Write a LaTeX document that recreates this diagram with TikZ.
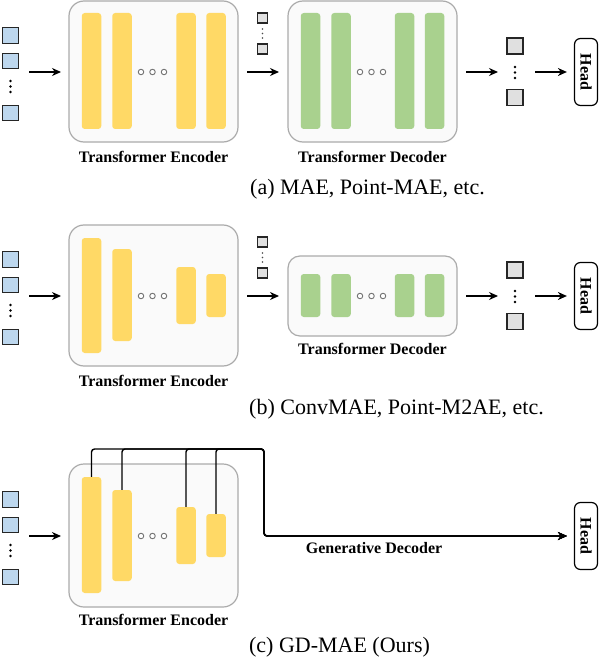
\documentclass[tikz,border=0pt]{standalone}
\usepackage{fontspec}
\setmainfont{Liberation Serif}
\usetikzlibrary{arrows.meta}
\definecolor{encY}{HTML}{FFD966}
\definecolor{decG}{HTML}{A9D18E}
\definecolor{tokB}{HTML}{BDD7EE}
\definecolor{tokG}{HTML}{E0E0E0}
\definecolor{boxF}{HTML}{FAFAFA}
\definecolor{boxD}{HTML}{ABABAB}
\tikzset{
  frame/.style={draw=boxD, fill=boxF, line width=1.2pt, rounded corners=15pt, inner sep=0pt},
  ybar/.style={fill=encY, rounded corners=3pt, minimum width=19.5pt, inner sep=0pt},
  gbar/.style={fill=decG, rounded corners=3pt, minimum width=19.5pt, inner sep=0pt},
  intok/.style={draw=black!85, fill=tokB, line width=1.2pt, minimum size=15.5pt, inner sep=0pt},
  masktok/.style={draw=black!85, fill=tokG, line width=1.2pt, minimum size=10pt, inner sep=0pt},
  outtok/.style={draw=black!85, fill=tokG, line width=1.2pt, minimum size=16pt, inner sep=0pt},
  headbox/.style={draw=black, fill=white, line width=1.2pt, rounded corners=6pt, minimum width=23pt, minimum height=67pt, inner sep=0pt},
  lab/.style={font=\fontsize{16}{18}\selectfont\bfseries, anchor=base, inner sep=0pt},
  captxt/.style={font=\fontsize{22}{24}\selectfont, anchor=base, inner sep=0pt},
  flow/.style={-{Stealth[length=9pt,width=8pt]}, line width=1.4pt},
  conn/.style={line width=1.4pt, rounded corners=3pt},
  ring/.style={circle, draw=black!55, fill=white, line width=0.9pt, minimum size=5.5pt, inner sep=0pt},
  dotc/.style={circle, fill=black, minimum size=2.6pt, inner sep=0pt},
  sdot/.style={circle, fill=black!70, minimum size=1.8pt, inner sep=0pt},
}
\begin{document}
\begin{tikzpicture}[x=1pt, y=-1pt]
\useasboundingbox (0,0) rectangle (599,658);

% ================= (a) =================
\node[intok] (a1) at (10.5,35.5) {};
\node[intok] (a2) at (10.5,61) {};
\node[intok] (a3) at (10.5,113) {};
\foreach \yy [count=\i] in {81,86.5,92} \node[dotc] (ad\i) at (10.5,\yy) {};
\coordinate (aInA) at (29,72);
\coordinate (aInB) at (61,72);
\draw[flow] (aInA) -- (aInB);
\node[frame, minimum width=169pt, minimum height=141pt] (aEnc) at (153.5,71.5) {};
\node[ybar, minimum height=116pt] (ae1) at (91.5,71) {};
\node[ybar, minimum height=116pt] (ae2) at (122,71) {};
\node[ybar, minimum height=116pt] (ae3) at (186,71) {};
\node[ybar, minimum height=116pt] (ae4) at (216,71) {};
\node[ring] (aer1) at (141,72) {};
\node[ring] (aer2) at (152.5,72) {};
\node[ring] (aer3) at (164,72) {};
\node[lab] (aEncL) at (153.5,162) {Transformer Encoder};
\node[masktok] (am1) at (262.5,18) {};
\node[masktok] (am2) at (262.5,49) {};
\foreach \yy [count=\i] in {29,33.5,38} \node[sdot] (amd\i) at (262.5,\yy) {};
\coordinate (aMidA) at (247,72);
\coordinate (aMidB) at (279,72);
\draw[flow] (aMidA) -- (aMidB);
\node[frame, minimum width=169pt, minimum height=141pt] (aDec) at (372.5,71.5) {};
\node[gbar, minimum height=116pt] (ad1) at (310.5,71) {};
\node[gbar, minimum height=116pt] (ad2) at (341,71) {};
\node[gbar, minimum height=116pt] (ad3) at (404.5,71) {};
\node[gbar, minimum height=116pt] (ad4) at (434.5,71) {};
\node[ring] (adr1) at (360,72) {};
\node[ring] (adr2) at (371.5,72) {};
\node[ring] (adr3) at (383,72) {};
\node[lab] (aDecL) at (372.5,162) {Transformer Decoder};
\coordinate (aOutA) at (466,72);
\coordinate (aOutB) at (498,72);
\draw[flow] (aOutA) -- (aOutB);
\node[outtok] (ao1) at (515,46) {};
\node[outtok] (ao2) at (515,97.5) {};
\foreach \yy [count=\i] in {67,72.5,78} \node[dotc] (aod\i) at (515,\yy) {};
\node[headbox] (aHead) at (586,72) {};
\node[lab, anchor=center, rotate=-90] (aHeadL) at (aHead.center) {Head};
\coordinate (aHA) at (535,72);
\draw[flow, shorten >=7pt] (aHA) -- (aHA -| aHead.west);
\node[captxt] (aCap) at (367.5,194) {(a) MAE, Point-MAE, etc.};

% ================= (b) =================
\node[intok] (b1) at (10.5,259.5) {};
\node[intok] (b2) at (10.5,285) {};
\node[intok] (b3) at (10.5,337) {};
\foreach \yy [count=\i] in {305,310.5,316} \node[dotc] (bd\i) at (10.5,\yy) {};
\coordinate (bInA) at (29,296);
\coordinate (bInB) at (61,296);
\draw[flow] (bInA) -- (bInB);
\node[frame, minimum width=169pt, minimum height=141pt] (bEnc) at (153.5,295.5) {};
\node[ybar, minimum height=115pt] (be1) at (91.5,295.5) {};
\node[ybar, minimum height=92pt] (be2) at (122,295) {};
\node[ybar, minimum height=57pt] (be3) at (186,295.5) {};
\node[ybar, minimum height=43pt] (be4) at (216,295.5) {};
\node[ring] (ber1) at (141,296) {};
\node[ring] (ber2) at (152.5,296) {};
\node[ring] (ber3) at (164,296) {};
\node[lab] (bEncL) at (153.5,386) {Transformer Encoder};
\node[masktok] (bm1) at (262.5,242) {};
\node[masktok] (bm2) at (262.5,273) {};
\foreach \yy [count=\i] in {253,257.5,262} \node[sdot] (bmd\i) at (262.5,\yy) {};
\coordinate (bMidA) at (247,296);
\coordinate (bMidB) at (279,296);
\draw[flow] (bMidA) -- (bMidB);
\node[frame, rounded corners=12pt, minimum width=169pt, minimum height=80pt] (bDec) at (372.5,296) {};
\node[gbar, minimum height=43pt] (bd1) at (310.5,295.5) {};
\node[gbar, minimum height=43pt] (bd2) at (341,295.5) {};
\node[gbar, minimum height=43pt] (bd3) at (404.5,295.5) {};
\node[gbar, minimum height=43pt] (bd4) at (434.5,295.5) {};
\node[ring] (bdr1) at (360,296) {};
\node[ring] (bdr2) at (371.5,296) {};
\node[ring] (bdr3) at (383,296) {};
\node[lab] (bDecL) at (372.5,354) {Transformer Decoder};
\coordinate (bOutA) at (466,296);
\coordinate (bOutB) at (498,296);
\draw[flow] (bOutA) -- (bOutB);
\node[outtok] (bo1) at (515,270) {};
\node[outtok] (bo2) at (515,321.5) {};
\foreach \yy [count=\i] in {291,296.5,302} \node[dotc] (bod\i) at (515,\yy) {};
\node[headbox] (bHead) at (586,296) {};
\node[lab, anchor=center, rotate=-90] (bHeadL) at (bHead.center) {Head};
\coordinate (bHA) at (535,296);
\draw[flow, shorten >=7pt] (bHA) -- (bHA -| bHead.west);
\node[captxt] (bCap) at (396.5,414) {(b) ConvMAE, Point-M2AE, etc.};

% ================= (c) =================
\node[intok] (c1) at (10.5,499.5) {};
\node[intok] (c2) at (10.5,525) {};
\node[intok] (c3) at (10.5,577) {};
\foreach \yy [count=\i] in {545,550.5,556} \node[dotc] (cd\i) at (10.5,\yy) {};
\coordinate (cInA) at (29,536);
\coordinate (cInB) at (61,536);
\draw[flow] (cInA) -- (cInB);
\node[frame, minimum width=169pt, minimum height=143pt] (cEnc) at (153.5,535.5) {};
\node[ybar, minimum height=116pt] (ce1) at (91.5,535) {};
\node[ybar, minimum height=91pt] (ce2) at (122,535.5) {};
\node[ybar, minimum height=57pt] (ce3) at (186,535.5) {};
\node[ybar, minimum height=43pt] (ce4) at (216,535.5) {};
\node[ring] (cer1) at (141,536) {};
\node[ring] (cer2) at (152.5,536) {};
\node[ring] (cer3) at (164,536) {};
\node[lab] (cEncL) at (153.5,625) {Transformer Encoder};
\node[headbox] (cHead) at (586,536) {};
\node[lab, anchor=center, rotate=-90] (cHeadL) at (cHead.center) {Head};
\coordinate (cTop) at (264,449);
\coordinate (cBend) at (264,536);
\foreach \b in {ce1,ce2,ce3,ce4}
  \draw[conn, flow, shorten >=7pt] (\b.north) |- (cTop) -- (cBend) -- (cHead.west);
\node[lab] (cGenL) at (374,553) {Generative Decoder};
\node[captxt] (cCap) at (339.5,652) {(c) GD-MAE (Ours)};
\end{tikzpicture}
\end{document}
